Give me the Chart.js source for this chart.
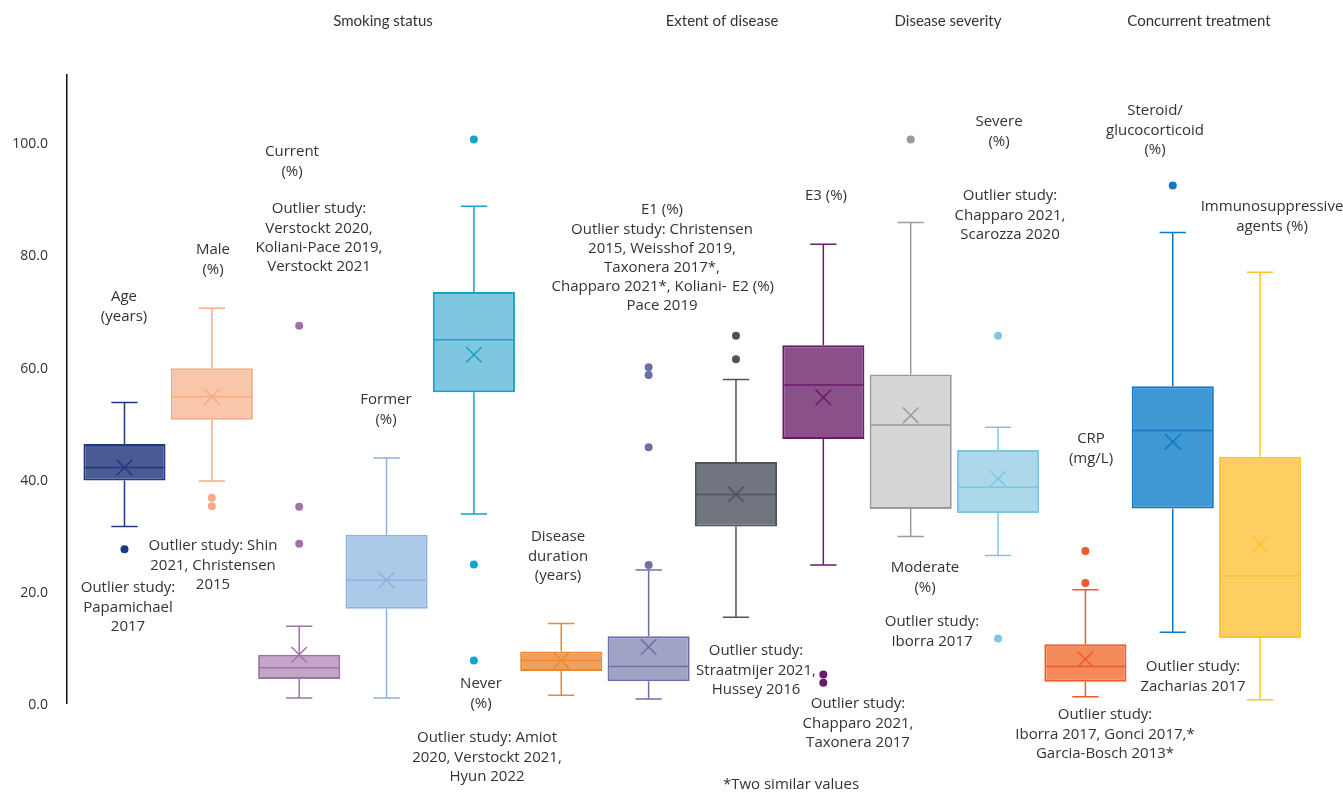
<!DOCTYPE html>
<html>
<head>
<meta charset="utf-8">
<script src="https://cdn.jsdelivr.net/npm/chart.js@4.4.1/dist/chart.umd.min.js"></script>
<style>
  html, body { margin: 0; padding: 0; background: #fff; }
  #wrap { width: 1343px; height: 792px; }
</style>
</head>
<body>
<div id="wrap"><canvas id="chart" width="1343" height="792"></canvas></div>
<script>
/** Box plot categories, left to right */
const categories = ['Age (years)', 'Male (%)', 'Current smoker (%)', 'Former smoker (%)', 'Never smoker (%)',
  'Disease duration (years)', 'E1 (%)', 'E2 (%)', 'E3 (%)', 'Moderate (%)', 'Severe (%)', 'CRP (mg/L)',
  'Steroid/glucocorticoid (%)', 'Immunosuppressive agents (%)'];
/** Box plot statistics per category */
const whiskerLow = [31.5, 39.6, 0.9, 0.9, 33.7, 1.4, 0.7, 15.3, 24.6, 29.7, 26.3, 1.1, 12.6, 0.6];
const q1 = [39.7, 50.5, 4.3, 16.8, 55.4, 5.7, 3.9, 31.5, 47.1, 34.6, 33.9, 3.8, 34.7, 11.6];
const median = [42.0, 54.6, 6.3, 21.9, 64.8, 7.6, 6.5, 37.2, 56.7, 49.6, 38.5, 6.5, 48.6, 22.7];
const q3 = [46.2, 59.7, 8.6, 30.0, 73.3, 9.2, 11.9, 43.0, 63.8, 58.6, 45.1, 10.5, 56.5, 43.9];
const whiskerHigh = [53.6, 70.4, 13.7, 43.7, 88.6, 14.2, 23.7, 57.7, 81.8, 85.7, 49.2, 20.2, 83.9, 76.8];
const means = [42.0, 54.6, 8.6, 21.9, 62.1, 7.6, 10.0, 37.2, 54.5, 51.3, 40.0, 7.8, 46.6, 28.3];
const outliers = [[27.4], [36.6, 35.1], [67.3, 35.0, 28.4], [], [100.5, 24.7, 7.6], [],
  [59.9, 58.5, 45.6, 24.6], [65.5, 61.3], [5.1, 3.6], [100.5], [65.5, 11.5], [27.1, 21.4], [92.3], []];
/** Y axis tick values */
const yTicks = [0, 20, 40, 60, 80, 100];

/** Colours */
const fillColors = ['#4a5a93', '#f9c6a9', '#c3a5c8', '#adc9e9', '#7fc6e1', '#f0a05b', '#a0a3c6',
  '#71757f', '#8a5089', '#d4d5d7', '#add8ea', '#f4895a', '#3f97d4', '#fdcf62'];
const lineColors = ['#1d3a7e', '#f7ab88', '#a172a9', '#8ab3df', '#12a4c9', '#ec8832', '#6c70a8',
  '#4f535d', '#6c1a6b', '#9a9b9e', '#7bc7e4', '#f05a28', '#0f79c5', '#fcc42d'];

/** Group headings along the top */
const headings = [
  {text: 'Smoking status', x: 383},
  {text: 'Extent of disease', x: 722},
  {text: 'Disease severity', x: 948},
  {text: 'Concurrent treatment', x: 1199},
];

/** Text labels placed round the boxes (pixel positions, first line) */
const notes = [
  {lines: ['Age', '(years)'], x: 124, y: 297},
  {lines: ['Male', '(%)'], x: 213, y: 250},
  {lines: ['Current', '(%)'], x: 292, y: 152},
  {lines: ['Outlier study:', 'Verstockt 2020,', 'Koliani-Pace 2019,', 'Verstockt 2021'], x: 319, y: 209},
  {lines: ['Outlier study: Shin', '2021, Christensen', '2015'], x: 213, y: 546},
  {lines: ['Outlier study:', 'Papamichael', '2017'], x: 128, y: 588},
  {lines: ['Former', '(%)'], x: 386, y: 400},
  {lines: ['Never', '(%)'], x: 481, y: 684},
  {lines: ['Outlier study: Amiot', '2020, Verstockt 2021,', 'Hyun 2022'], x: 487, y: 738},
  {lines: ['Disease', 'duration', '(years)'], x: 558, y: 537},
  {lines: ['E1 (%)', 'Outlier study: Christensen', '2015, Weisshof 2019,', 'Taxonera 2017*,'], x: 662, y: 210},
  {lines: ['Chapparo 2021*, Koliani-'], x: 639, y: 287},
  {lines: ['Pace 2019'], x: 662, y: 306},
  {lines: ['E2 (%)'], x: 753, y: 287},
  {lines: ['Outlier study:', 'Straatmijer 2021,', 'Hussey 2016'], x: 756, y: 651},
  {lines: ['E3 (%)'], x: 826, y: 196},
  {lines: ['Outlier study:', 'Chapparo 2021,', 'Taxonera 2017'], x: 858, y: 704},
  {lines: ['Moderate', '(%)'], x: 925, y: 568},
  {lines: ['Outlier study:', 'Iborra 2017'], x: 932, y: 622},
  {lines: ['Severe', '(%)'], x: 999, y: 122},
  {lines: ['Outlier study:', 'Chapparo 2021,', 'Scarozza 2020'], x: 1010, y: 196},
  {lines: ['CRP', '(mg/L)'], x: 1091, y: 439},
  {lines: ['Outlier study:', 'Iborra 2017, Gonci 2017,*', 'Garcia-Bosch 2013*'], x: 1105, y: 715},
  {lines: ['Steroid/', 'glucocorticoid', '(%)'], x: 1155, y: 111},
  {lines: ['Immunosuppressive', 'agents (%)'], x: 1272, y: 207},
  {lines: ['Outlier study:', 'Zacharias 2017'], x: 1193, y: 667},
  {lines: ['*Two similar values'], x: 791, y: 785},
];

const labelFont = '15px "Open Sans"';
const textColor = '#333333';

/** Whiskers, caps and median lines drawn right after the boxes */
const boxWhiskers = {
  id: 'boxWhiskers',
  afterDatasetDraw(chart, args) {
    if (args.index !== 0) return;
    const {ctx} = chart;
    const x = chart.scales.x;
    const y = chart.scales.y;
    const bars = chart.getDatasetMeta(0).data;
    ctx.save();
    categories.forEach((c, i) => {
      const cx = x.getPixelForValue(i);
      const half = bars[i].width / 2;
      const cap = half * 0.32;
      const yHigh = y.getPixelForValue(whiskerHigh[i]);
      const yLow = y.getPixelForValue(whiskerLow[i]);
      ctx.strokeStyle = lineColors[i];
      ctx.lineWidth = 1.5;
      ctx.beginPath();
      ctx.moveTo(cx - half + 1, y.getPixelForValue(median[i]));
      ctx.lineTo(cx + half - 1, y.getPixelForValue(median[i]));
      ctx.moveTo(cx, y.getPixelForValue(q3[i]));
      ctx.lineTo(cx, yHigh);
      ctx.moveTo(cx, y.getPixelForValue(q1[i]));
      ctx.lineTo(cx, yLow);
      ctx.moveTo(cx - cap, yHigh);
      ctx.lineTo(cx + cap, yHigh);
      ctx.moveTo(cx - cap, yLow);
      ctx.lineTo(cx + cap, yLow);
      ctx.stroke();
    });
    ctx.restore();
  }
};

/** Headings and notes */
const chartText = {
  id: 'chartText',
  afterDraw(chart) {
    const {ctx} = chart;
    ctx.save();
    ctx.fillStyle = textColor;
    ctx.textAlign = 'center';
    ctx.textBaseline = 'middle';
    ctx.font = '15px Lato';
    headings.forEach(h => ctx.fillText(h.text, h.x, 21));
    ctx.font = labelFont;
    notes.forEach(n => {
      n.lines.forEach((line, k) => ctx.fillText(line, n.x, n.y + k * 19.3));
    });
    ctx.restore();
  }
};

const outlierPoints = [];
const outlierColors = [];
outliers.forEach((list, i) => {
  list.forEach(v => {
    outlierPoints.push({x: i, y: v});
    outlierColors.push(lineColors[i]);
  });
});

new Chart(document.getElementById('chart'), {
  type: 'bar',
  data: {
    datasets: [
      {
        label: 'IQR',
        order: 3,
        data: categories.map((c, i) => ({x: i, y: [q1[i], q3[i]]})),
        backgroundColor: fillColors,
        borderColor: lineColors,
        borderWidth: 2,
        borderSkipped: false,
        barPercentage: 0.94,
        categoryPercentage: 1,
      },
      {
        type: 'line',
        label: 'Mean',
        order: 1,
        data: categories.map((c, i) => ({x: i, y: means[i]})),
        showLine: false,
        pointStyle: 'crossRot',
        pointRadius: 11,
        pointBorderWidth: 1.5,
        pointBorderColor: lineColors,
        pointBackgroundColor: lineColors,
      },
      {
        type: 'line',
        label: 'Outliers',
        order: 0,
        data: outlierPoints,
        showLine: false,
        pointStyle: 'circle',
        pointRadius: 4,
        pointBorderWidth: 0,
        pointBackgroundColor: outlierColors,
        pointBorderColor: outlierColors,
      },
    ]
  },
  options: {
    responsive: false,
    animation: false,
    layout: {padding: {top: 75, right: 13, bottom: 89, left: 0}},
    scales: {
      x: {
        type: 'linear',
        offset: false,
        min: -0.658,
        max: 13.8,
        display: false,
      },
      y: {
        min: 0,
        max: 112,
        afterFit: (scale) => { scale.width = 67; },
        afterBuildTicks: (scale) => { scale.ticks = yTicks.map(v => ({value: v})); },
        ticks: {
          padding: 19,
          labelOffset: 2,
          color: textColor,
          font: {family: 'Open Sans', size: 14},
          callback: (value) => Number(value).toFixed(1),
        },
        grid: {display: false, drawTicks: false},
        border: {display: true, color: '#111111', width: 1.5},
      }
    },
    plugins: {
      legend: {display: false},
      tooltip: {enabled: false},
    }
  },
  plugins: [boxWhiskers, chartText],
});
</script>
</body>
</html>
